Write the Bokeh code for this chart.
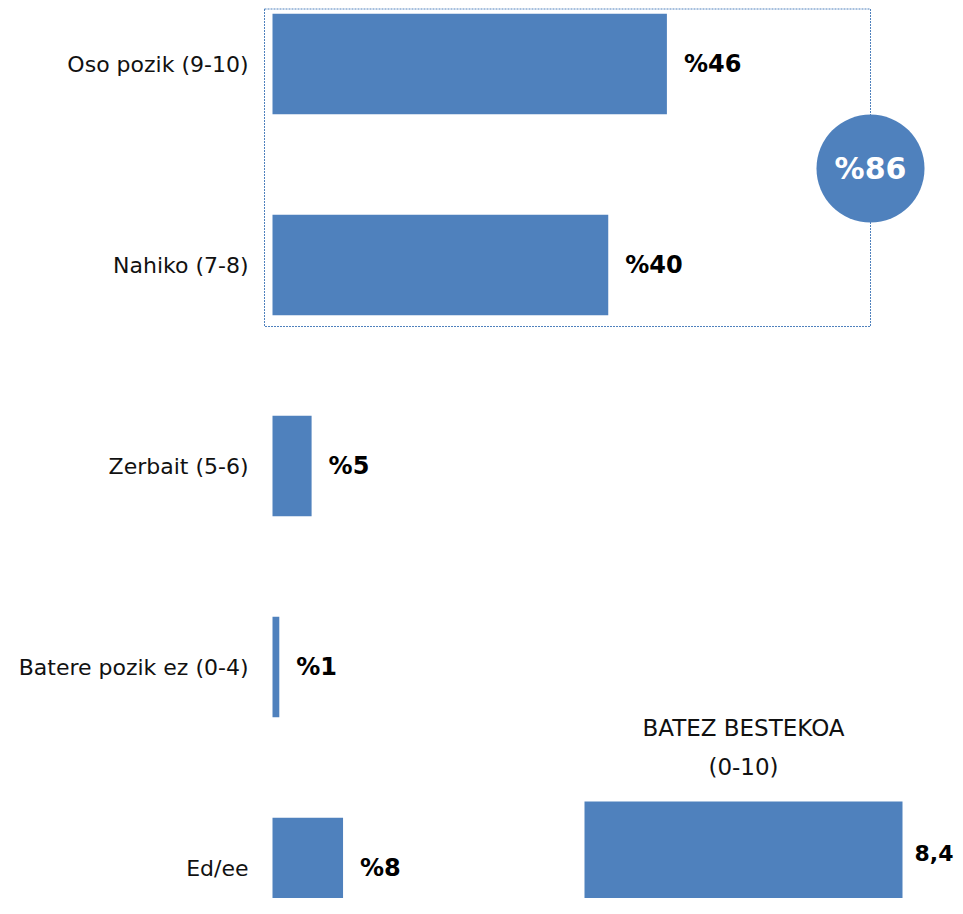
from bokeh.plotting import figure
from bokeh.models import Range1d
from bokeh.core.properties import value
from bokeh.embed import file_html
from bokeh.resources import INLINE

# ---- data ----
categories = ["Oso pozik (9-10)", "Nahiko (7-8)", "Zerbait (5-6)",
              "Batere pozik ez (0-4)", "Ed/ee"]
percent = [46.4, 39.5, 4.6, 0.8, 8.3]
percent_labels = ["%46", "%40", "%5", "%1", "%8"]
highlight_label = "%86"
average_title = ["BATEZ BESTEKOA", "(0-10)"]
average_value = [8.4]
average_label = ["8,4"]

# ---- styling ----
FONT = "DejaVu Sans"
BLUE = "#4F81BD"
W, H = 955, 898
PX = 8.5            # px per percent
X0 = 272            # px where bars start
ROW = 201           # px between rows
TOPC = 63.5         # px centre of first row

n = len(categories)
ypos = [n - 1 - i for i in range(n)]
ytop = (n - 1) + TOPC / ROW

p = figure(width=W, height=H, output_backend="svg", toolbar_location=None,
           x_axis_location=None, y_axis_location=None, min_border=0,
           x_range=Range1d(-X0 / PX, (W - X0) / PX),
           y_range=Range1d(ytop - H / ROW, ytop))
p.grid.visible = False
p.outline_line_color = None
p.background_fill_color = "white"
p.border_fill_color = "white"

# dotted box around top two rows
box_right = (870 - X0) / PX
p.quad(left=-8 / PX, right=box_right,
       top=ytop - 8.5 / ROW, bottom=ytop - 326 / ROW,
       fill_color=None, line_color=BLUE, line_dash="2 1", line_width=1)

# bars
p.hbar(y=ypos, left=0, right=percent, height=0.5, fill_color=BLUE, line_color=None)

# category labels
p.text(x=[0] * n, y=ypos, text=categories, text_font=value(FONT),
       text_font_size="22px", text_align="right", text_baseline="middle",
       x_offset=-24, text_color="#111111")

# value labels
p.text(x=percent, y=ypos, text=percent_labels, text_font=value(FONT),
       text_font_size="24px", text_font_style="bold", text_align="left",
       text_baseline="middle", x_offset=17, text_color="black")

# highlight circle
cy = (ypos[0] + ypos[1]) / 2 - 0.02
p.scatter(x=[box_right], y=[cy], size=108, marker="circle",
          fill_color=BLUE, line_color=None)
p.text(x=[box_right], y=[cy], text=[highlight_label], text_font=value(FONT),
       text_font_size="30px", text_font_style="bold", text_align="center",
       text_baseline="middle", text_color="white")

# average bar (own ranges)
APX = 318 / 8.4
ACY = 852
p.extra_x_ranges = {"avg": Range1d(-584 / APX, (W - 584) / APX)}
p.extra_y_ranges = {"avg": Range1d(-(H - ACY) / ROW, ACY / ROW)}
p.hbar(y=[0], left=0, right=average_value, height=102 / ROW, fill_color=BLUE,
       line_color=None, x_range_name="avg", y_range_name="avg")
p.text(x=average_value, y=[0], text=average_label, text_font=value(FONT),
       text_font_size="22px", text_font_style="bold", text_align="left",
       text_baseline="middle", x_offset=12, text_color="black",
       x_range_name="avg", y_range_name="avg")
mid = average_value[0] / 2
p.text(x=[mid] * len(average_title), y=[0] * len(average_title), text=average_title,
       text_font=value(FONT), text_font_size="23px", text_align="center",
       text_baseline="middle", y_offset=[-125, -86], text_color="#111111",
       x_range_name="avg", y_range_name="avg")

open("out.html", "w").write(file_html(p, INLINE))
